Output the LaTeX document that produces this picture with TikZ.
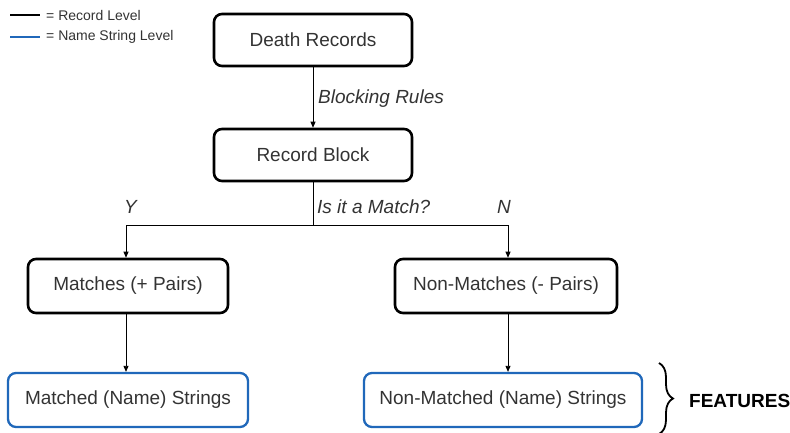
\documentclass[tikz,border=0pt]{standalone}
\usepackage{fontspec}
\setmainfont{Liberation Sans}
\usetikzlibrary{arrows.meta,decorations.pathreplacing}
\definecolor{txt}{HTML}{333333}
\definecolor{blu}{HTML}{2068BA}
\begin{document}
\begin{tikzpicture}[x=1pt,y=-1pt,
  box/.style={draw=black,line width=2.6pt,rounded corners=8pt,text=txt,font=\fontsize{19}{22}\selectfont,inner sep=0pt},
  bbox/.style={box,draw=blu,line width=2.3pt},
  arr/.style={-{Triangle[length=6pt,width=5pt]},line width=0.8pt},
  lbl/.style={text=txt,font=\fontsize{19}{22}\selectfont\itshape,anchor=west,inner sep=0pt},
  leg/.style={text=txt,font=\fontsize{14}{16}\selectfont,anchor=west,inner sep=0pt}]
\useasboundingbox (0,0) rectangle (790,432);
% legend
\coordinate (l1a) at (10,15); \coordinate (l1b) at (40,15);
\coordinate (l2a) at (10,37); \coordinate (l2b) at (40,37);
\draw[line width=2.6pt] (l1a) -- (l1b);
\draw[line width=2.6pt,blu] (l2a) -- (l2b);
\node[leg] (lg1) at (46,15) {= Record Level};
\node[leg] (lg2) at (46,37) {= Name String Level};
% boxes
\node[box,minimum width=198pt,minimum height=52pt] (dr) at (313,40) {Death Records};
\node[box,minimum width=198pt,minimum height=52pt] (rb) at (313,155) {Record Block};
\node[box,minimum width=200pt,minimum height=54pt] (m) at (128,286) {Matches (+ Pairs)};
\node[box,minimum width=222pt,minimum height=54pt] (nm) at (506,286) {Non-Matches (- Pairs)};
\node[bbox,minimum width=240pt,minimum height=54pt] (ms) at (128,400) {Matched (Name) Strings};
\node[bbox,minimum width=278pt,minimum height=54pt] (nms) at (503,400) {Non-Matched (Name) Strings};
% connectors
\draw[arr] (dr) -- (rb);
\node[lbl] (br) at (318,99) {Blocking Rules};
\coordinate (split) at (313,225);
\coordinate (lft) at (126,225);
\coordinate (rgt) at (508,225);
\draw[line width=0.8pt] (rb) -- (split);
\draw[line width=0.8pt] (lft) -- (rgt);
\draw[arr] (lft) -- (lft |- m.north);
\draw[arr] (rgt) -- (rgt |- nm.north);
\node[lbl] (q) at (317,207) {Is it a Match?};
\node[lbl] (y) at (124,207) {Y};
\node[lbl] (n) at (497,207) {N};
\draw[arr] (m.south -| lft) -- (ms.north -| lft);
\draw[arr] (nm.south -| rgt) -- (nms.north -| rgt);
% brace
\coordinate (bt) at (659,363);
\coordinate (bb) at (659,434);
\draw[decorate,decoration={brace,amplitude=14pt},line width=1.8pt] (bt) -- (bb);
\node[font=\fontsize{19}{22}\selectfont\bfseries,anchor=west,inner sep=0pt] (feat) at (689,401) {FEATURES};
\end{tikzpicture}
\end{document}
